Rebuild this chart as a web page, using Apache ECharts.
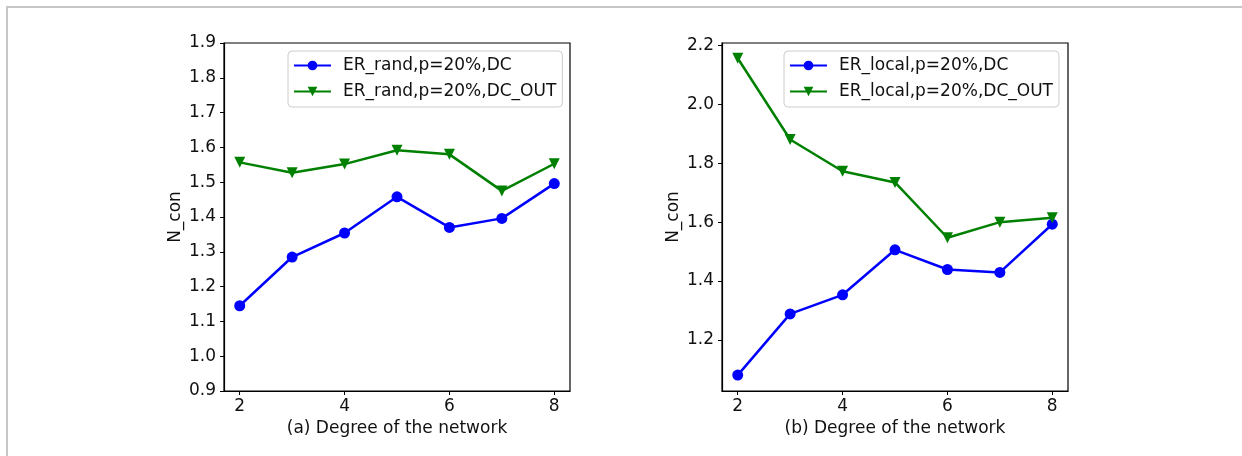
<!DOCTYPE html>
<html>
<head>
<meta charset="utf-8">
<script src="https://cdn.jsdelivr.net/npm/echarts@6/dist/echarts.min.js"></script>
<style>
  html, body { margin: 0; padding: 0; background: #fff; }
  #frame { position: absolute; left: 6px; top: 6px; right: 0; bottom: 0;
           border-top: 2px solid #c6c6c6; border-left: 2px solid #c6c6c6; }
  #main { position: absolute; left: 0; top: 0; width: 1242px; height: 456px; }
</style>
</head>
<body>
<div id="frame"></div>
<div id="main"></div>
<script>
// degree of the network (x)
const degrees = [2, 3, 4, 5, 6, 7, 8];
const xTicks = [2, 4, 6, 8];

// (a) ER_rand
const randDC = [1.145, 1.285, 1.354, 1.458, 1.370, 1.396, 1.496];
const randDCOut = [1.557, 1.527, 1.552, 1.592, 1.580, 1.475, 1.553];
const randYTicks = [0.9, 1.0, 1.1, 1.2, 1.3, 1.4, 1.5, 1.6, 1.7, 1.8, 1.9];

// (b) ER_local
const localDC = [1.080, 1.288, 1.353, 1.506, 1.439, 1.429, 1.593];
const localDCOut = [2.157, 1.881, 1.773, 1.735, 1.547, 1.600, 1.615];
const localYTicks = [1.2, 1.4, 1.6, 1.8, 2.0, 2.2];

const names = [
    "ER_rand,p=20%,DC", "ER_rand,p=20%,DC_OUT",
    "ER_local,p=20%,DC", "ER_local,p=20%,DC_OUT"
];

const font = "DejaVu Sans";
const BLUE = "#0000ff";
const GREEN = "#008000";
const TXT = "#111";

function pairs(ys) {
    return degrees.map((x, i) => [x, ys[i]]);
}

function xAxis(gridIndex, title) {
    return {
        type: "value", gridIndex: gridIndex,
        min: 1.7, max: 8.3,
        name: title, nameLocation: "middle", nameGap: 28,
        nameTextStyle: { fontFamily: font, fontSize: 17, color: TXT },
        axisLine: { lineStyle: { color: "#000", width: 1.2 } },
        axisTick: { show: true, length: 4, customValues: xTicks, lineStyle: { color: "#000" } },
        axisLabel: { customValues: xTicks, margin: 7, fontFamily: font, fontSize: 17, color: TXT },
        splitLine: { show: false }
    };
}

function yAxis(gridIndex, min, max, ticks) {
    return {
        type: "value", gridIndex: gridIndex,
        min: min, max: max,
        name: "N_con", nameLocation: "middle", nameGap: 40, nameRotate: 90,
        nameTextStyle: { fontFamily: font, fontSize: 17, color: TXT },
        axisLine: { show: true, lineStyle: { color: "#000", width: 1.2 } },
        axisTick: { show: true, length: 4, customValues: ticks, lineStyle: { color: "#000" } },
        axisLabel: {
            customValues: ticks, margin: 8, fontFamily: font, fontSize: 17, color: TXT,
            formatter: v => v.toFixed(1)
        },
        splitLine: { show: false }
    };
}

function legend(left, data) {
    return {
        orient: "vertical", left: left, top: 51,
        data: data,
        itemWidth: 37, itemHeight: 12, itemGap: 9,
        padding: [6, 6, 7, 5],
        borderColor: "#cccccc", borderWidth: 1, borderRadius: 4,
        backgroundColor: "rgba(255,255,255,0.8)",
        textStyle: { fontFamily: font, fontSize: 17, lineHeight: 17, color: TXT, padding: [0, 0, 0, 7] }
    };
}

function line(name, xi, ys, color, dc) {
    return {
        name: name, type: "line",
        xAxisIndex: xi, yAxisIndex: xi,
        data: pairs(ys),
        symbol: dc ? "circle" : "triangle",
        symbolRotate: dc ? 0 : 180,
        symbolSize: 11,
        lineStyle: { color: color, width: 2.5 },
        itemStyle: { color: color },
        animation: false
    };
}

const chart = echarts.init(document.getElementById("main"), null, { renderer: "canvas" });
chart.setOption({
    animation: false,
    grid: [
        { left: 224, top: 43, width: 346, height: 348, show: true, borderColor: "#000", borderWidth: 1.2 },
        { left: 722, top: 43, width: 346, height: 348, show: true, borderColor: "#000", borderWidth: 1.2 }
    ],
    xAxis: [xAxis(0, "(a) Degree of the network"), xAxis(1, "(b) Degree of the network")],
    yAxis: [yAxis(0, 0.9, 1.9, randYTicks), yAxis(1, 1.026, 2.209, localYTicks)],
    legend: [legend(288, [names[0], names[1]]), legend(784, [names[2], names[3]])],
    series: [
        line(names[0], 0, randDC, BLUE, true),
        line(names[1], 0, randDCOut, GREEN, false),
        line(names[2], 1, localDC, BLUE, true),
        line(names[3], 1, localDCOut, GREEN, false)
    ]
});
</script>
</body>
</html>
